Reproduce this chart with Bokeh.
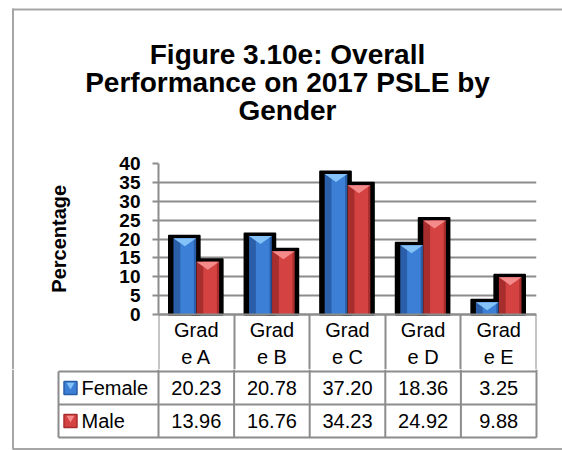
from bokeh.plotting import figure
from bokeh.models import Range1d, FixedTicker, Spacer
from bokeh.layouts import column, row
from bokeh.embed import file_html
from bokeh.resources import INLINE
from bokeh.core.properties import value

# ---------------- data ----------------
title_lines = ["Figure 3.10e: Overall", "Performance on 2017 PSLE by", "Gender"]
categories = ["Grade A", "Grade B", "Grade C", "Grade D", "Grade E"]
series_names = ["Female", "Male"]
female = [20.23, 20.78, 37.20, 18.36, 3.25]
male = [13.96, 16.76, 34.23, 24.92, 9.88]
y_ticks = [0, 5, 10, 15, 20, 25, 30, 35, 40]
y_label = "Percentage"

# ---------------- style ----------------
FONT = "Liberation Sans"
GRID = "#8c8c8c"
BORDER = "#a6a6a6"
COLORS = {
    "Female": dict(edge="#2b5ea8", main="#3b80d6", top="#84c2f7"),
    "Male": dict(edge="#a82d2d", main="#d44242", top="#f48a8a"),
}

W, H = 562, 450
TITLE_H = 135
CHART_H = 234
PX_L, PX_R = 158, 536          # page x of plot area
PY_T, PY_B = 163, 314          # page y of 40 and 0
HEADER_B = TITLE_H + CHART_H   # bottom of chart figure (= header bottom)
UNIT = (PX_R - PX_L) / len(categories)
YPX = (PY_B - PY_T) / (y_ticks[-1] - y_ticks[0])


def cx(px):
    return (px - PX_L) / UNIT


def blank(width, height, xr, yr):
    p = figure(width=width, height=height, x_range=xr, y_range=yr,
               output_backend="svg", toolbar_location=None, title=None,
               min_border=0, x_axis_location=None, y_axis_location=None,
               outline_line_color=None)
    for g in p.grid:
        g.visible = False
    p.background_fill_color = "white"
    p.border_fill_color = "white"
    return p


# ---------------- title panel ----------------
pT = blank(W, TITLE_H, Range1d(0, W), Range1d(TITLE_H, 0))
pT.text(x=[287] * len(title_lines), y=[54, 82, 110], text=title_lines,
        text_font=value(FONT), text_font_style="bold", text_font_size="28px",
        text_align="center", text_baseline="alphabetic", text_color="black")
pT.segment(x0=[12.5, 12], y0=[8, 9], x1=[12.5, W], y1=[TITLE_H, 9],
           line_color=BORDER, line_width=2)

# ---------------- chart ----------------
left_gap = Spacer(width=12, height=CHART_H)
left_line = Spacer(width=2, height=CHART_H, styles={"background-color": BORDER})
chart_w = W - 14

pA = figure(width=chart_w, height=CHART_H, x_range=Range1d(0, len(categories)),
            y_range=Range1d(-(HEADER_B - PY_B) / YPX, y_ticks[-1]),
            output_backend="svg", toolbar_location=None, title=None,
            min_border_left=PX_L - 14, min_border_right=W - PX_R,
            min_border_top=PY_T - TITLE_H, min_border_bottom=0,
            outline_line_color=None)
pA.background_fill_color = "white"
pA.border_fill_color = "white"

pA.xgrid.visible = False
pA.ygrid.ticker = FixedTicker(ticks=y_ticks)
pA.ygrid.grid_line_color = GRID
pA.ygrid.grid_line_width = 2

ya = pA.yaxis[0]
ya.ticker = FixedTicker(ticks=y_ticks)
ya.bounds = (y_ticks[0], y_ticks[-1])
ya.axis_line_color = GRID
ya.axis_line_width = 2
ya.major_tick_out = 6
ya.major_tick_in = 0
ya.major_tick_line_color = GRID
ya.major_tick_line_width = 2
ya.minor_tick_out = 0
ya.minor_tick_in = 0
ya.major_label_text_font = FONT
ya.major_label_text_font_style = "bold"
ya.major_label_text_font_size = "19px"
ya.major_label_text_color = "black"
ya.major_label_standoff = 12
# the label is centred on the whole frame (which also holds the header row);
# leading no-break spaces lift the visible word to the middle of 0..40
ya.axis_label = "\u00a0" * 10 + y_label
ya.axis_label_text_font = FONT
ya.axis_label_text_font_style = "bold"
ya.axis_label_text_font_size = "20px"
ya.axis_label_text_color = "black"
ya.axis_label_standoff = 46

centers = [i + 0.5 for i in range(len(categories))]
tick_out = HEADER_B - PY_B + 2
xa = pA.xaxis[0]
xa.fixed_location = 0
xa.ticker = FixedTicker(ticks=centers, minor_ticks=list(range(len(categories) + 1)))
xa.major_label_overrides = {c: cat[:4] + "\n" + cat[4:] for c, cat in zip(centers, categories)}
xa.axis_line_color = GRID
xa.axis_line_width = 2
xa.major_tick_out = 0
xa.major_tick_in = 0
xa.minor_tick_out = tick_out
xa.minor_tick_in = 0
xa.minor_tick_line_color = GRID
xa.minor_tick_line_width = 2
xa.major_label_text_font = FONT
xa.major_label_text_font_size = "20px"
xa.major_label_text_color = "black"
xa.major_label_text_line_height = 1.25
xa.major_label_standoff = 4 - tick_out

bw = 0.30
offsets = {"Female": -0.152, "Male": 0.152}
series = {"Female": female, "Male": male}

# shadows first
for name in series_names:
    xs = [c + offsets[name] - 0.5 / UNIT for c in centers]
    tops = [v + 2.5 / YPX for v in series[name]]
    pA.vbar(x=xs, width=bw + 8 / UNIT, top=tops, bottom=0,
            fill_color="black", line_color="black", line_width=2, line_join="round")

for name in series_names:
    col = COLORS[name]
    xs = [c + offsets[name] for c in centers]
    vals = series[name]
    pA.vbar(x=xs, width=bw, top=vals, bottom=0, fill_color=col["edge"], line_color=None)
    pA.vbar(x=[x + 0.03 for x in xs], width=bw * 0.6, top=vals, bottom=0,
            fill_color=col["main"], line_color=None)
    tri_x = [[x - bw / 2, x + bw / 2, x] for x in xs]
    tri_y = [[v, v, v - 8 / YPX] for v in vals]
    pA.patches(tri_x, tri_y, fill_color=col["top"], line_color=None)

# ---------------- data table ----------------
TABLE_H = H - HEADER_B
pB = blank(W, TABLE_H, Range1d(cx(0), cx(W)), Range1d(H, HEADER_B))
row_top, row_h = 371, 33
row_lines = [row_top + k * row_h for k in range(len(series_names) + 1)]
pB.segment(x0=[cx(58)] * len(row_lines), y0=row_lines,
           x1=[len(categories)] * len(row_lines), y1=row_lines,
           line_color=GRID, line_width=2)
vx = [cx(58)] + list(range(len(categories) + 1))
vy0 = [row_lines[0]] + [HEADER_B] * (len(categories) + 1)
pB.segment(x0=vx, y0=vy0, x1=vx, y1=[row_lines[-1]] * len(vx),
           line_color=GRID, line_width=2)
# outer border
pB.segment(x0=[cx(12.5), cx(12)], y0=[HEADER_B, 448.5], x1=[cx(12.5), cx(W)], y1=[448.5, 448.5],
           line_color=BORDER, line_width=2)

for k, name in enumerate(series_names):
    yc = row_top + row_h * (k + 0.5)
    col = COLORS[name]
    pB.text(x=centers, y=[yc] * len(centers), text=[f"{v:.2f}" for v in series[name]],
            text_font=value(FONT), text_font_size="20px", text_color="black",
            text_align="center", text_baseline="middle")
    pB.text(x=[cx(81)], y=[yc], text=[name], text_font=value(FONT),
            text_font_size="20px", text_color="black",
            text_align="left", text_baseline="middle")
    pB.rect(x=[cx(70)], y=[yc], width=13, height=13, width_units="screen",
            height_units="screen", fill_color=col["main"], line_color=col["edge"],
            line_width=1.5)
    pB.scatter(x=[cx(70)], y=[yc - 3], size=8, marker="inverted_triangle",
               fill_color=col["top"], line_color=None)

layout = column(pT, row(left_gap, left_line, pA), pB)

open("out.html", "w").write(file_html(layout, INLINE))
